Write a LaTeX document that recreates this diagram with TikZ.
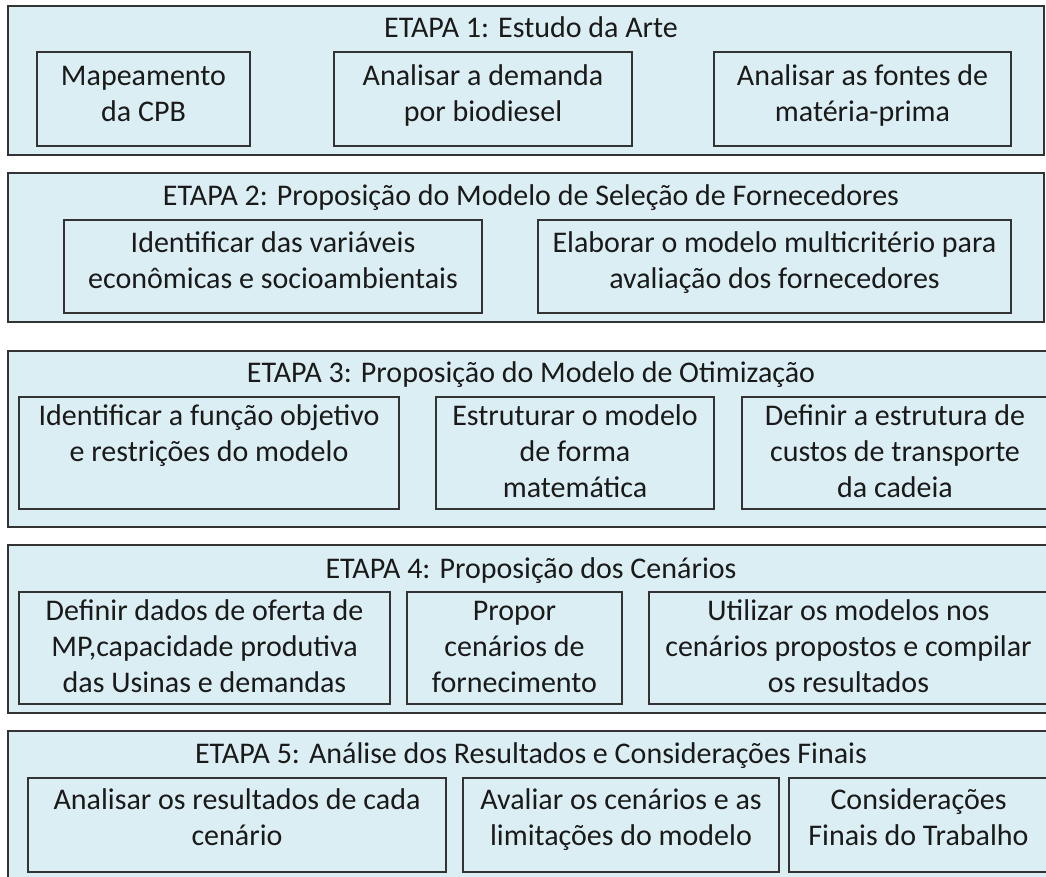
\documentclass[tikz,border=0pt]{standalone}
\usepackage{fontspec}
\setmainfont{Carlito}
\usetikzlibrary{fit}
\definecolor{boxfill}{HTML}{DBEEF4}
\definecolor{boxline}{HTML}{333333}
\definecolor{txtcol}{HTML}{1A1A1A}
\tikzset{
  obox/.style={draw=boxline, line width=1.4pt, fill=boxfill, inner sep=0pt},
  ibox/.style={draw=boxline, line width=1.4pt, inner sep=0pt},
  ttl/.style={anchor=north, inner sep=0pt, text=txtcol, font=\fontsize{30}{36}\selectfont, align=center},
  itxt/.style={anchor=north, inner sep=0pt, text=txtcol, font=\fontsize{30}{36}\selectfont, align=center}
}
\begin{document}
\begin{tikzpicture}[x=1pt, y=-1pt]
\useasboundingbox (0,0) rectangle (1046,877);
\clip (0,0) rectangle (1046,877);
\fill[white] (0,0) rectangle (1046,877);
% ---- ETAPA 1
\node[obox, fit={(8,6) (1044,155)}] (e1) {};
\node[ttl] (t1) at (531,11.8) {\strut ETAPA 1: Estudo da Arte};
\node[ibox, fit={(37,52) (250,146)}] (b11) {};
\node[ibox, fit={(334,52) (632,146)}] (b12) {};
\node[ibox, fit={(714,52) (1011,146)}] (b13) {};
\node[itxt] (x11) at (b11.center |- 0,59.8) {\strut Mapeamento\\da CPB};
\node[itxt] (x12) at (b12.center |- 0,59.8) {\strut Analisar a demanda\\por biodiesel};
\node[itxt] (x13) at (b13.center |- 0,59.8) {\strut Analisar as fontes de\\matéria-prima};
% ---- ETAPA 2
\node[obox, fit={(8,173) (1044,322)}] (e2) {};
\node[ttl] (t2) at (531,179.8) {\strut ETAPA 2: Proposição do Modelo de Seleção de Fornecedores};
\node[ibox, fit={(64,220) (482,313)}] (b21) {};
\node[ibox, fit={(538,220) (1011,313)}] (b22) {};
\node[itxt] (x21) at (b21.center |- 0,226.8) {\strut Identificar das variáveis\\econômicas e socioambientais};
\node[itxt] (x22) at (b22.center |- 0,226.8) {\strut Elaborar o modelo multicritério para\\avaliação dos fornecedores};
% ---- ETAPA 3
\node[obox, fit={(8,351) (1052,527)}] (e3) {};
\node[ttl] (t3) at (531,356.8) {\strut ETAPA 3: Proposição do Modelo de Otimização};
\node[ibox, fit={(19,397) (399,509)}] (b31) {};
\node[ibox, fit={(436,397) (714,509)}] (b32) {};
\node[ibox, fit={(742,397) (1048,509)}] (b33) {};
\node[itxt] (x31) at (b31.center |- 0,399.8) {\strut Identificar a função objetivo\\e restrições do modelo};
\node[itxt] (x32) at (b32.center |- 0,399.8) {\strut Estruturar o modelo\\de forma\\matemática};
\node[itxt] (x33) at (b33.center |- 0,399.8) {\strut Definir a estrutura de\\custos de transporte\\da cadeia};
% ---- ETAPA 4
\node[obox, fit={(8,545) (1052,713)}] (e4) {};
\node[ttl] (t4) at (531,552.8) {\strut ETAPA 4: Proposição dos Cenários};
\node[ibox, fit={(19,592) (390,704)}] (b41) {};
\node[ibox, fit={(407,592) (622,704)}] (b42) {};
\node[ibox, fit={(649,592) (1048,704)}] (b43) {};
\node[itxt] (x41) at (b41.center |- 0,595.3) {\strut Definir dados de oferta de\\MP,capacidade produtiva\\das Usinas e demandas};
\node[itxt] (x42) at (b42.center |- 0,595.3) {\strut Propor\\cenários de\\fornecimento};
\node[itxt] (x43) at (b43.center |- 0,595.3) {\strut Utilizar os modelos nos\\cenários propostos e compilar\\os resultados};
% ---- ETAPA 5
\node[obox, fit={(8,731) (1052,895)}] (e5) {};
\node[ttl] (t5) at (531,737.8) {\strut ETAPA 5: Análise dos Resultados e Considerações Finais};
\node[ibox, fit={(28,778) (446,872)}] (b51) {};
\node[ibox, fit={(463,778) (779,872)}] (b52) {};
\node[ibox, fit={(789,778) (1048,872)}] (b53) {};
\node[itxt] (x51) at (b51.center |- 0,783.8) {\strut Analisar os resultados de cada\\cenário};
\node[itxt] (x52) at (b52.center |- 0,783.8) {\strut Avaliar os cenários e as\\limitações do modelo};
\node[itxt] (x53) at (b53.center |- 0,783.8) {\strut Considerações\\Finais do Trabalho};
\end{tikzpicture}
\end{document}
